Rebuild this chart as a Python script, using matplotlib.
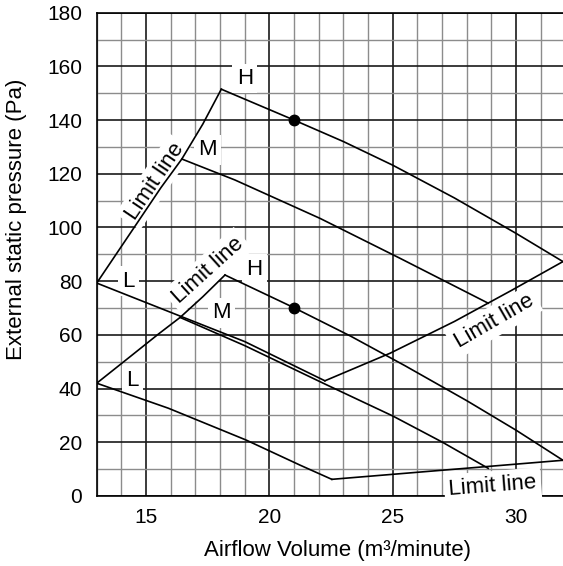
import matplotlib
matplotlib.use("Agg")
import matplotlib.pyplot as plt
from matplotlib.ticker import MultipleLocator

plt.rcParams["font.family"] = ["Liberation Sans", "DejaVu Sans"]

# ── Data ─────────────────────────────────────────────────────────
# upper fan set
UP_H_X = [18.05, 21.0, 23.0, 25.0, 27.5, 30.0, 31.9]
UP_H_Y = [151.5, 140.0, 132.0, 123.2, 111.0, 97.8, 87.3]
UP_M_X = [16.45, 18.6, 22.05, 25.3, 28.87]
UP_M_Y = [125.5, 117.7, 103.4, 88.5, 71.8]
UP_L_X = [13.0, 16.3, 19.0, 22.25]
UP_L_Y = [79.3, 67.3, 57.5, 42.9]
UP_LIMIT_LEFT_X = [13.0, 14.7, 15.6, 16.45, 17.3, 18.05]
UP_LIMIT_LEFT_Y = [79.3, 102.5, 114.8, 125.5, 138.5, 151.5]
UP_LIMIT_RIGHT_X = [22.25, 24.9, 27.5, 29.8, 31.9]
UP_LIMIT_RIGHT_Y = [42.9, 53.2, 65.0, 76.5, 87.3]

# lower fan set
LO_H_X = [18.2, 21.0, 23.3, 25.5, 28.0, 30.0, 31.9]
LO_H_Y = [82.3, 70.1, 59.5, 48.5, 35.5, 24.5, 13.3]
LO_M_X = [16.38, 19.0, 22.25, 25.0, 27.0, 28.87]
LO_M_Y = [66.5, 56.0, 41.7, 29.8, 20.1, 10.3]
LO_L_X = [13.0, 15.9, 19.04, 21.24, 22.53]
LO_L_Y = [42.0, 32.7, 20.9, 11.5, 6.2]
LO_LIMIT_LEFT_X = [13.0, 14.3, 15.5, 16.38, 17.3, 18.2]
LO_LIMIT_LEFT_Y = [42.0, 51.5, 60.3, 66.5, 74.2, 82.3]
LO_LIMIT_BOTTOM_X = [22.53, 31.9]
LO_LIMIT_BOTTOM_Y = [6.2, 13.3]

# rated points
DOT_X = [21.0, 21.0]
DOT_Y = [140.0, 70.1]

X_TICKS = [15, 20, 25, 30]
Y_TICKS = [0, 20, 40, 60, 80, 100, 120, 140, 160, 180]

# ── Figure ────────────────────────────────────────────────────────
fig = plt.figure(figsize=(5.63, 5.66), dpi=100)
ax = fig.add_axes([0.1718, 0.1237, 0.8325, 0.8539])

ax.set_xlim(13, 32)
ax.set_ylim(0, 180)
ax.set_xticks(X_TICKS)
ax.set_yticks(Y_TICKS)
ax.xaxis.set_minor_locator(MultipleLocator(1))
ax.yaxis.set_minor_locator(MultipleLocator(10))
ax.grid(which="minor", color="#8c8c8c", lw=1.0, zorder=0)
ax.grid(which="major", color="#1a1a1a", lw=1.2, zorder=0)
ax.set_axisbelow(True)
ax.tick_params(which="both", length=0, labelsize=15)
ax.tick_params(axis="y", pad=10.5)
ax.tick_params(axis="x", pad=8.5)
for sp in ax.spines.values():
    sp.set_color("black")
    sp.set_linewidth(1.2)
ax.spines["right"].set_visible(False)

curves = [
    (UP_H_X, UP_H_Y), (UP_M_X, UP_M_Y), (UP_L_X, UP_L_Y),
    (UP_LIMIT_LEFT_X, UP_LIMIT_LEFT_Y), (UP_LIMIT_RIGHT_X, UP_LIMIT_RIGHT_Y),
    (LO_H_X, LO_H_Y), (LO_M_X, LO_M_Y), (LO_L_X, LO_L_Y),
    (LO_LIMIT_LEFT_X, LO_LIMIT_LEFT_Y), (LO_LIMIT_BOTTOM_X, LO_LIMIT_BOTTOM_Y),
]
for xs, ys in curves:
    ax.plot(xs, ys, color="black", lw=1.2, zorder=4, solid_joinstyle="round")

ax.plot(DOT_X, DOT_Y, "o", color="black", ms=7.5, zorder=5)

box = dict(boxstyle="square,pad=0.2", fc="white", ec="none")
labels = [
    ("H", 19.0, 155.5, 0), ("M", 17.5, 129.0, 0), ("L", 14.3, 80.0, 0),
    ("H", 19.4, 84.5, 0), ("M", 18.05, 68.3, 0), ("L", 14.45, 43.0, 0),
    ("Limit line", 15.35, 117.0, 56), ("Limit line", 17.5, 84.0, 42),
    ("Limit line", 29.1, 65.0, 30), ("Limit line", 29.05, 3.7, 4.5),
]
for txt, x, y, rot in labels:
    ax.text(x, y, txt, fontsize=16, rotation=rot, ha="center", va="center",
            rotation_mode="anchor", bbox=box, zorder=3)

ax.set_xlabel("Airflow Volume (m³/minute)", fontsize=16)
ax.set_ylabel("External static pressure (Pa)", fontsize=16)
ax.xaxis.set_label_coords(0.513, -0.091)
ax.yaxis.set_label_coords(-0.149, 0.573)

fig.savefig("out.png", dpi=100)
plt.close(fig)
